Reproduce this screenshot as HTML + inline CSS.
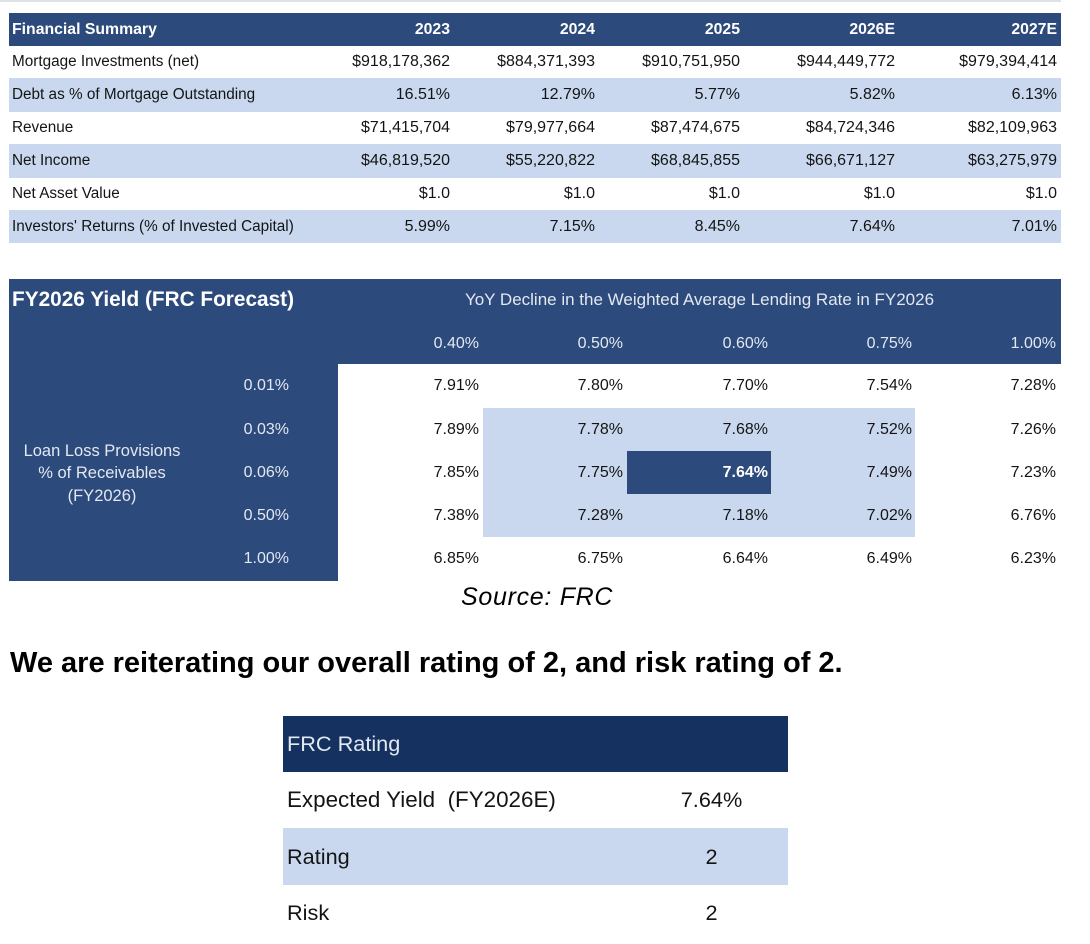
<!DOCTYPE html>
<html>
<head>
<meta charset="utf-8">
<style>
  html, body { margin:0; padding:0; background:#fff; }
  body { width:1090px; height:944px; position:relative; overflow:hidden;
         font-family:"Liberation Sans", Arial, sans-serif; color:#141414; }
  .a { position:absolute; white-space:pre; }
  .box { position:absolute; }
  .t1 { font-size:15.3px; }
  .v1 { font-size:16px; }
  .hd { font-weight:bold; color:#fff; font-size:15.8px; }
  .t2 { font-size:16px; }
  .lt { color:#e3e8f1; }
  .rt { font-size:21.7px; }
</style>
</head>
<body>

<!-- top faint line -->
<div class="box" style="left:0;top:0;width:1061px;height:2px;background:#dde1e8;"></div>

<!-- ============ TABLE 1 ============ -->
<div class="box" style="left:9px;top:13px;width:1052px;height:33px;background:#2c4a7b;"></div>
<div class="box" style="left:9px;top:78px;width:1052px;height:34px;background:#c9d8ee;"></div>
<div class="box" style="left:9px;top:144px;width:1052px;height:34px;background:#c9d8ee;"></div>
<div class="box" style="left:9px;top:210px;width:1052px;height:33px;background:#c9d8ee;"></div>

<!-- header -->
<div class="a hd" style="left:12px;top:13px;height:33px;line-height:33px;">Financial Summary</div>
<div class="a hd" style="right:640px;top:13px;height:33px;line-height:33px;">2023</div>
<div class="a hd" style="right:495px;top:13px;height:33px;line-height:33px;">2024</div>
<div class="a hd" style="right:350px;top:13px;height:33px;line-height:33px;">2025</div>
<div class="a hd" style="right:195px;top:13px;height:33px;line-height:33px;">2026E</div>
<div class="a hd" style="right:33px;top:13px;height:33px;line-height:33px;">2027E</div>

<!-- row 1 -->
<div class="a t1" style="left:12px;top:46px;line-height:32px;">Mortgage Investments (net)</div>
<div class="a v1" style="right:640px;top:46px;line-height:32px;">$918,178,362</div>
<div class="a v1" style="right:495px;top:46px;line-height:32px;">$884,371,393</div>
<div class="a v1" style="right:350px;top:46px;line-height:32px;">$910,751,950</div>
<div class="a v1" style="right:195px;top:46px;line-height:32px;">$944,449,772</div>
<div class="a v1" style="right:33px;top:46px;line-height:32px;">$979,394,414</div>

<!-- row 2 -->
<div class="a t1" style="left:12px;top:78px;line-height:34px;">Debt as % of Mortgage Outstanding</div>
<div class="a v1" style="right:640px;top:78px;line-height:34px;">16.51%</div>
<div class="a v1" style="right:495px;top:78px;line-height:34px;">12.79%</div>
<div class="a v1" style="right:350px;top:78px;line-height:34px;">5.77%</div>
<div class="a v1" style="right:195px;top:78px;line-height:34px;">5.82%</div>
<div class="a v1" style="right:33px;top:78px;line-height:34px;">6.13%</div>

<!-- row 3 -->
<div class="a t1" style="left:12px;top:112px;line-height:32px;">Revenue</div>
<div class="a v1" style="right:640px;top:112px;line-height:32px;">$71,415,704</div>
<div class="a v1" style="right:495px;top:112px;line-height:32px;">$79,977,664</div>
<div class="a v1" style="right:350px;top:112px;line-height:32px;">$87,474,675</div>
<div class="a v1" style="right:195px;top:112px;line-height:32px;">$84,724,346</div>
<div class="a v1" style="right:33px;top:112px;line-height:32px;">$82,109,963</div>

<!-- row 4 -->
<div class="a t1" style="left:12px;top:144px;line-height:34px;">Net Income</div>
<div class="a v1" style="right:640px;top:144px;line-height:34px;">$46,819,520</div>
<div class="a v1" style="right:495px;top:144px;line-height:34px;">$55,220,822</div>
<div class="a v1" style="right:350px;top:144px;line-height:34px;">$68,845,855</div>
<div class="a v1" style="right:195px;top:144px;line-height:34px;">$66,671,127</div>
<div class="a v1" style="right:33px;top:144px;line-height:34px;">$63,275,979</div>

<!-- row 5 -->
<div class="a t1" style="left:12px;top:178px;line-height:32px;">Net Asset Value</div>
<div class="a v1" style="right:640px;top:178px;line-height:32px;">$1.0</div>
<div class="a v1" style="right:495px;top:178px;line-height:32px;">$1.0</div>
<div class="a v1" style="right:350px;top:178px;line-height:32px;">$1.0</div>
<div class="a v1" style="right:195px;top:178px;line-height:32px;">$1.0</div>
<div class="a v1" style="right:33px;top:178px;line-height:32px;">$1.0</div>

<!-- row 6 -->
<div class="a t1" style="left:12px;top:210px;line-height:33px;">Investors' Returns (% of Invested Capital)</div>
<div class="a v1" style="right:640px;top:210px;line-height:33px;">5.99%</div>
<div class="a v1" style="right:495px;top:210px;line-height:33px;">7.15%</div>
<div class="a v1" style="right:350px;top:210px;line-height:33px;">8.45%</div>
<div class="a v1" style="right:195px;top:210px;line-height:33px;">7.64%</div>
<div class="a v1" style="right:33px;top:210px;line-height:33px;">7.01%</div>

<!-- ============ TABLE 2 ============ -->
<div class="box" style="left:9px;top:279px;width:1052px;height:85px;background:#2c4a7b;"></div>
<div class="box" style="left:9px;top:279px;width:329px;height:302px;background:#2c4a7b;"></div>
<div class="box" style="left:483px;top:408px;width:432px;height:129px;background:#c9d8ee;"></div>
<div class="box" style="left:627px;top:451px;width:144px;height:43px;background:#2c4a7b;"></div>

<div class="a" style="left:12px;top:285px;line-height:30px;font-size:20.8px;font-weight:bold;color:#fff;">FY2026 Yield (FRC Forecast)</div>
<div class="a lt" style="left:338px;width:723px;text-align:center;top:285px;line-height:30px;font-size:17px;">YoY Decline in the Weighted Average Lending Rate in FY2026</div>

<!-- column headers -->
<div class="a t2 lt" style="right:611px;top:322px;line-height:43px;">0.40%</div>
<div class="a t2 lt" style="right:467px;top:322px;line-height:43px;">0.50%</div>
<div class="a t2 lt" style="right:322px;top:322px;line-height:43px;">0.60%</div>
<div class="a t2 lt" style="right:178px;top:322px;line-height:43px;">0.75%</div>
<div class="a t2 lt" style="right:34px;top:322px;line-height:43px;">1.00%</div>

<!-- left label -->
<div class="a lt" style="left:2px;width:200px;text-align:center;top:440px;line-height:22.3px;font-size:16.5px;white-space:normal;">Loan Loss Provisions<br>% of Receivables<br>(FY2026)</div>

<!-- row labels -->
<div class="a t2 lt" style="right:801px;top:364px;line-height:44px;">0.01%</div>
<div class="a t2 lt" style="right:801px;top:408px;line-height:43px;">0.03%</div>
<div class="a t2 lt" style="right:801px;top:451px;line-height:43px;">0.06%</div>
<div class="a t2 lt" style="right:801px;top:494px;line-height:43px;">0.50%</div>
<div class="a t2 lt" style="right:801px;top:537px;line-height:44px;">1.00%</div>

<!-- data row 1 -->
<div class="a t2" style="right:611px;top:364px;line-height:44px;">7.91%</div>
<div class="a t2" style="right:467px;top:364px;line-height:44px;">7.80%</div>
<div class="a t2" style="right:322px;top:364px;line-height:44px;">7.70%</div>
<div class="a t2" style="right:178px;top:364px;line-height:44px;">7.54%</div>
<div class="a t2" style="right:34px;top:364px;line-height:44px;">7.28%</div>
<!-- data row 2 -->
<div class="a t2" style="right:611px;top:408px;line-height:43px;">7.89%</div>
<div class="a t2" style="right:467px;top:408px;line-height:43px;">7.78%</div>
<div class="a t2" style="right:322px;top:408px;line-height:43px;">7.68%</div>
<div class="a t2" style="right:178px;top:408px;line-height:43px;">7.52%</div>
<div class="a t2" style="right:34px;top:408px;line-height:43px;">7.26%</div>
<!-- data row 3 -->
<div class="a t2" style="right:611px;top:451px;line-height:43px;">7.85%</div>
<div class="a t2" style="right:467px;top:451px;line-height:43px;">7.75%</div>
<div class="a t2" style="right:322px;top:451px;line-height:43px;color:#fff;font-weight:bold;">7.64%</div>
<div class="a t2" style="right:178px;top:451px;line-height:43px;">7.49%</div>
<div class="a t2" style="right:34px;top:451px;line-height:43px;">7.23%</div>
<!-- data row 4 -->
<div class="a t2" style="right:611px;top:494px;line-height:43px;">7.38%</div>
<div class="a t2" style="right:467px;top:494px;line-height:43px;">7.28%</div>
<div class="a t2" style="right:322px;top:494px;line-height:43px;">7.18%</div>
<div class="a t2" style="right:178px;top:494px;line-height:43px;">7.02%</div>
<div class="a t2" style="right:34px;top:494px;line-height:43px;">6.76%</div>
<!-- data row 5 -->
<div class="a t2" style="right:611px;top:537px;line-height:44px;">6.85%</div>
<div class="a t2" style="right:467px;top:537px;line-height:44px;">6.75%</div>
<div class="a t2" style="right:322px;top:537px;line-height:44px;">6.64%</div>
<div class="a t2" style="right:178px;top:537px;line-height:44px;">6.49%</div>
<div class="a t2" style="right:34px;top:537px;line-height:44px;">6.23%</div>

<!-- Source -->
<div class="a" style="left:461px;top:581px;line-height:32px;font-size:25px;font-style:italic;color:#000;letter-spacing:0.7px;">Source: FRC</div>

<!-- Heading -->
<div class="a" style="left:10px;top:646px;line-height:34px;font-size:29px;font-weight:bold;color:#000;">We are reiterating our overall rating of 2, and risk rating of 2.</div>

<!-- ============ RATING TABLE ============ -->
<div class="box" style="left:283px;top:716px;width:505px;height:56px;background:#14315f;"></div>
<div class="box" style="left:283px;top:828px;width:505px;height:57px;background:#c9d8ee;"></div>

<div class="a rt lt" style="left:287px;top:716px;line-height:56px;">FRC Rating</div>
<div class="a rt" style="left:287px;top:772px;line-height:56px;font-size:22.4px;">Expected Yield  (FY2026E)</div>
<div class="a rt" style="left:651px;width:121px;text-align:center;top:772px;line-height:56px;">7.64%</div>
<div class="a rt" style="left:287px;top:828px;line-height:57px;">Rating</div>
<div class="a rt" style="left:651px;width:121px;text-align:center;top:828px;line-height:57px;">2</div>
<div class="a rt" style="left:287px;top:885px;line-height:56px;">Risk</div>
<div class="a rt" style="left:651px;width:121px;text-align:center;top:885px;line-height:56px;">2</div>

</body>
</html>
